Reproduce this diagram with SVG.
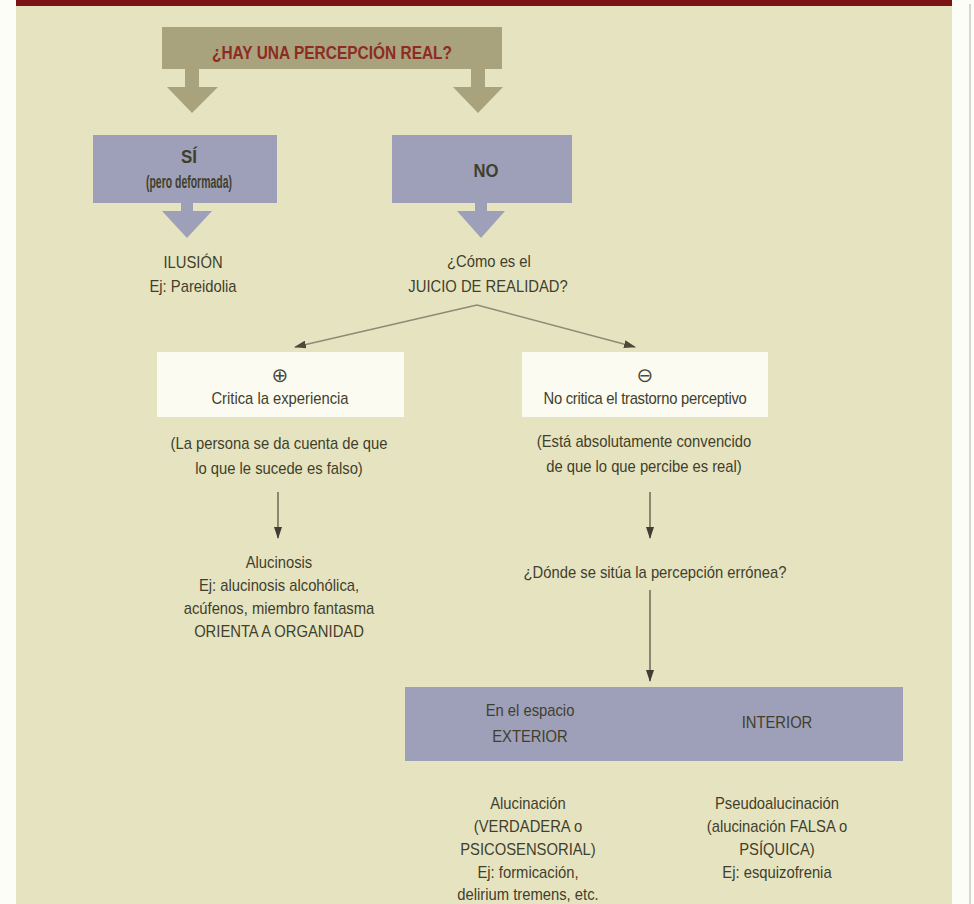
<svg xmlns="http://www.w3.org/2000/svg" width="974" height="904" viewBox="0 0 974 904">
<defs>
<style>
.t{font-family:"Liberation Sans",Arial,sans-serif;font-size:17px;fill:#413f2c;text-anchor:middle;transform-box:fill-box;transform-origin:center;transform:scaleX(0.87)}
.b{font-family:"Liberation Sans",Arial,sans-serif;font-weight:bold;text-anchor:middle}
.olive{fill:#a8a37d}
.blue{fill:#9ea0b9}
.white{fill:#fbfbf1}
.diag{fill:none;stroke:#8d8b76;stroke-width:1.6;marker-end:url(#ah)}
.vert{fill:none;stroke:#55554a;stroke-width:1.3;marker-end:url(#av)}
.sym{font-family:"DejaVu Sans",sans-serif;font-size:20px;fill:#4a483a;text-anchor:middle}
</style>
<marker id="ah" viewBox="0 0 12 8" refX="11" refY="4" markerWidth="12" markerHeight="8" markerUnits="userSpaceOnUse" orient="auto">
<path d="M0,0 L12,4 L0,8 Z" fill="#4a4a3a"/>
</marker>
<marker id="av" viewBox="0 0 12 8" refX="11" refY="4" markerWidth="12" markerHeight="8" markerUnits="userSpaceOnUse" orient="auto">
<path d="M0,0 L12,4 L0,8 Z" fill="#3e3e34"/>
</marker>
</defs>
<!-- page -->
<rect x="0" y="0" width="974" height="904" fill="#fdfdf8"/>
<rect x="16" y="0" width="936" height="904" fill="#e6e4c0"/>
<rect x="16" y="0" width="936" height="6" fill="#7a1417"/>
<line x1="970" y1="4" x2="970" y2="904" stroke="#c8c8c4" stroke-width="1.5"/>

<g id="connectors">
<polygon class="olive" points="185,69 199,69 199,87 218,87 192,113 167,87 185,87"/>
<polygon class="olive" points="471,69 485,69 485,87 503,87 478,113 453,87 471,87"/>
<polygon class="blue" points="181,203 193,203 193,211 212,211 187,238 162,211 181,211"/>
<polygon class="blue" points="475,203 487,203 487,211 505,211 481,238 457,211 475,211"/>
<path class="diag" d="M477,305 L295,347"/>
<path class="diag" d="M477,305 L635,347"/>
<path class="vert" d="M278,492 L278,538"/>
<path class="vert" d="M650,492 L650,538"/>
<path class="vert" d="M650,590 L650,681"/>
</g>

<g id="q-percepcion">
<rect class="olive" x="162" y="27" width="340" height="42"/>
<text class="b" x="332" y="59" font-size="19" fill="#8e2b22" textLength="240" lengthAdjust="spacingAndGlyphs">¿HAY UNA PERCEPCIÓN REAL?</text>
</g>

<g id="si">
<rect class="blue" x="93" y="135" width="184" height="68"/>
<text class="b" x="189" y="163" font-size="18" fill="#413f2c" textLength="16" lengthAdjust="spacingAndGlyphs">SÍ</text>
<text class="b" x="189" y="188" font-size="18" fill="#413f2c" textLength="86" lengthAdjust="spacingAndGlyphs">(pero deformada)</text>
</g>

<g id="no">
<rect class="blue" x="392" y="135" width="180" height="68"/>
<text class="b" x="486" y="177" font-size="18" fill="#413f2c" textLength="25" lengthAdjust="spacingAndGlyphs">NO</text>
</g>

<g id="ilusion">
<text class="t" x="193" y="268">ILUSIÓN</text>
<text class="t" x="193" y="292">Ej: Pareidolia</text>
</g>

<g id="juicio">
<text class="t" x="489" y="267">¿Cómo es el</text>
<text class="t" x="488" y="292">JUICIO DE REALIDAD?</text>
</g>

<g id="critica">
<rect class="white" x="157" y="352" width="247" height="65"/>
<text class="sym" x="280" y="382">⊕</text>
<text class="t" x="280" y="404">Critica la experiencia</text>
</g>

<g id="no-critica">
<rect class="white" x="522" y="352" width="246" height="65"/>
<text class="sym" x="645" y="382">⊖</text>
<text class="t" x="645" y="404" letter-spacing="-0.3">No critica el trastorno perceptivo</text>
</g>

<g id="critica-nota">
<text class="t" x="279" y="449">(La persona se da cuenta de que</text>
<text class="t" x="279" y="474">lo que le sucede es falso)</text>
</g>

<g id="no-critica-nota">
<text class="t" x="644" y="447">(Está absolutamente convencido</text>
<text class="t" x="644" y="472">de que lo que percibe es real)</text>
</g>

<g id="alucinosis">
<text class="t" x="279" y="568">Alucinosis</text>
<text class="t" x="279" y="591">Ej: alucinosis alcohólica,</text>
<text class="t" x="279" y="614">acúfenos, miembro fantasma</text>
<text class="t" x="279" y="637">ORIENTA A ORGANIDAD</text>
</g>

<g id="donde">
<text class="t" x="655" y="578">¿Dónde se sitúa la percepción errónea?</text>
</g>

<g id="espacio">
<rect class="blue" x="405" y="687" width="498" height="74"/>
<text class="t" x="530" y="716">En el espacio</text>
<text class="t" x="530" y="742">EXTERIOR</text>
<text class="t" x="777" y="728">INTERIOR</text>
</g>

<g id="alucinacion">
<text class="t" x="528" y="809">Alucinación</text>
<text class="t" x="528" y="832">(VERDADERA o</text>
<text class="t" x="528" y="855">PSICOSENSORIAL)</text>
<text class="t" x="528" y="878">Ej: formicación,</text>
<text class="t" x="528" y="900">delirium tremens, etc.</text>
</g>

<g id="pseudoalucinacion">
<text class="t" x="777" y="809">Pseudoalucinación</text>
<text class="t" x="777" y="832">(alucinación FALSA o</text>
<text class="t" x="777" y="855">PSÍQUICA)</text>
<text class="t" x="777" y="878">Ej: esquizofrenia</text>
</g>
</svg>
